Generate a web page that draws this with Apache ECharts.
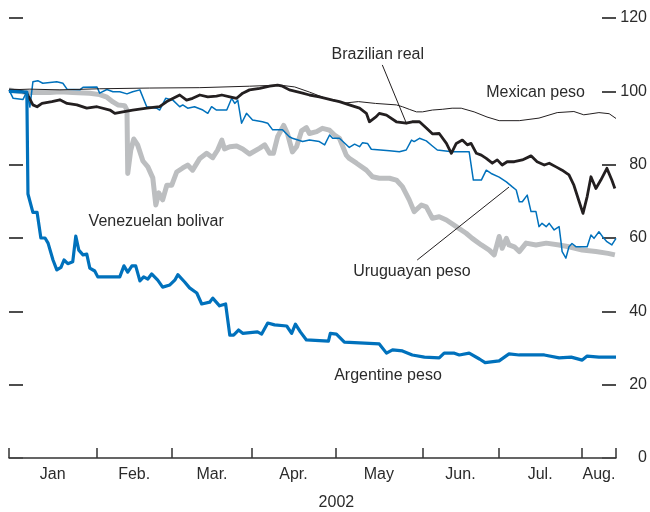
<!DOCTYPE html>
<html>
<head>
<meta charset="utf-8">
<script src="https://cdn.jsdelivr.net/npm/echarts@6/dist/echarts.min.js"></script>
<style>
  html, body { margin: 0; padding: 0; background: #fff; }
  #chart { width: 650px; height: 512px; }
</style>
</head>
<body>
<div id="chart"></div>
<script>
// x = trading day of 2002 (0 = first trading day of January), y = index (start = 100)
const monthStarts = [0, 23, 43, 64, 86, 109, 129, 151, 160]
const monthNames  = ['Jan', 'Feb.', 'Mar.', 'Apr.', 'May', 'Jun.', 'Jul.', 'Aug.']
const yTicks      = [0, 20, 40, 60, 80, 100, 120]

const argentinePeso = [
  [0,100],[4.7,99.8],[5.0,72],[6.3,67],[7.4,67],[8.4,60],[9.5,60],[10.3,58.6],[11.6,54],[12.6,51.3],
  [13.7,52],[14.5,54],[15.5,53],[16.8,53.5],[17.6,60.5],[18.4,56.7],[19.5,55.4],[20.5,55.6],[21.3,51.8],
  [22.6,51],[23.4,49.4],[29.2,49.4],[30.3,52.4],[31.3,50.7],[32.4,52.4],[33.4,52.4],[34.5,48.3],[35.5,49.4],
  [36.6,48.8],[37.6,50.2],[39.2,48.5],[40.5,46.6],[42.4,47.2],[43.7,48.5],[44.5,50],[46.3,48],[47.6,46.4],
  [49.5,45],[50.8,42],[52.9,42.5],[53.7,43.6],[55.5,41.5],[57.1,42],[58.2,33.5],[59.2,33.5],[60.5,34.9],
  [61.6,34],[65.5,34.4],[66.6,33.8],[68.2,36.8],[70,36.3],[73.2,36],[74.5,34],[75.5,36.5],[76.8,34.4],
  [78.4,32.2],[84.2,31.9],[84.7,34],[86.3,33.8],[88.4,31.6],[97.6,31.1],[99.5,28.6],[101.1,29.5],[103.7,29.2],
  [106.3,28.1],[109.5,27.5],[113.4,27.3],[114.7,28.6],[117.4,28.6],[118.7,28.1],[121.3,28.6],[124,27],
  [125.5,26],[129.2,26.5],[131.8,28.4],[134.5,28.1],[141.1,28.1],[145,27.3],[148.2,27.5],[151.1,26.7],
  [152.4,27.8],[155.5,27.5],[160,27.5]
]

const mexicanPeso = [
  [0,100.4],[5.5,100.6],[13.4,100.4],[23.9,100.7],[37.1,100.9],[50.3,101],[63.4,101.4],[71.3,101.7],
  [75.3,101.2],[79.2,99.8],[83.2,98.2],[85.3,97.5],[88.4,96.8],[92.1,97.2],[96.6,96.7],[102.1,96.3],
  [103.7,95.8],[105.5,95.1],[107.4,94.4],[109,94.4],[111.6,94.9],[114.2,95.1],[116.8,95.4],[119.2,95.4],
  [122.6,94.4],[126,93],[129.2,92],[134.5,92],[139.7,92.7],[144.5,94.2],[148.9,94.5],[151.5,93.6],
  [152.9,93.8],[155.5,94.2],[158.2,93.9],[160,92.6]
]

const brazilianReal = [
  [0,100.4],[2.9,100.1],[4.7,99.5],[6.3,96.3],[7.4,95.8],[8.7,96.7],[11.3,97.2],[13.4,97.7],[15.3,96.7],
  [17.9,96.3],[20.5,95.4],[23.2,95.8],[26.6,94.9],[27.9,94],[30,94.4],[32.6,94.9],[36.3,95.4],[39.7,95.8],
  [41.6,97.2],[45,99],[46.8,97.6],[48.4,98.1],[50.3,99],[52.4,98.5],[54.7,98.7],[56.1,99],[58.2,98.5],
  [60,98.1],[61.6,99.5],[63.4,100.4],[66.1,100.8],[68.7,101.4],[70.8,101.7],[72.1,101.4],[73.9,100.4],
  [75.8,99.9],[77.4,99.5],[79.2,99],[81.8,98.5],[85.3,97.6],[87.1,97.2],[89.7,96.3],[92.4,95.4],[94.2,94],
  [95,91.7],[96.8,93.1],[97.6,94],[99.5,93.5],[102.1,91.7],[104.7,91.3],[106.3,91.7],[108.2,91.7],[110,90],
  [111.6,88.4],[113.4,88.5],[115.3,85.8],[116.6,83.1],[117.9,85.8],[119.5,86.7],[120.8,85.4],[121.8,85.8],
  [123.2,83.1],[124.5,82.6],[125.8,81.7],[127.4,80.4],[128.7,81.3],[130,79.9],[131.3,80.8],[133.2,80.8],
  [135.3,81.3],[137.6,82.4],[139.2,80.8],[141.1,79.9],[142.4,80.4],[144.2,79.4],[145.8,78.5],[147.6,77.2],
  [148.9,74.4],[150.3,69.9],[151.3,66.7],[152.4,71.3],[153.4,76.7],[154.7,73.5],[156,75.8],[157.6,79],
  [158.9,75.8],[159.7,73.5]
]

const uruguayanPeso = [
  [0,100.4],[1.1,98.1],[3.7,97.8],[4.7,99.9],[5.5,95.7],[6.3,102.6],[7.6,102.9],[8.9,102.2],[10.8,102.4],
  [12.6,102.6],[14.2,102.2],[15.3,100.6],[18.7,100.4],[19.5,101.1],[23.2,101.2],[23.9,99.5],[25.8,100.5],
  [27.4,99.9],[29.2,99.9],[31.1,99.3],[32.6,99.9],[34.5,100.4],[36.3,95.8],[38.9,95.4],[39.7,94.9],
  [41.3,98.1],[43.2,97.6],[45,95.8],[45.8,96.3],[47.1,95.4],[48.9,95.8],[51.1,94.9],[52.4,94],[53.4,95.8],
  [54.7,94.9],[57.4,94.9],[58.7,98.1],[59.5,96.7],[60.3,97.6],[61.3,91.3],[62.6,94],[64.2,92.2],[66.8,91.7],
  [68.2,91.3],[69.5,89.5],[72.1,89.5],[73.9,87.6],[74.7,87.2],[77.4,86.3],[79.2,86.7],[81.8,86.3],[83.2,85.4],
  [84.5,88.1],[85.3,87.2],[87.1,87.2],[89.7,84.7],[91.1,85.6],[92.4,84.9],[93.2,86],[94.5,85.8],[95.5,84.2],
  [100.3,83.8],[102.9,83.5],[104.7,84],[106.1,86.7],[106.8,86.3],[108.2,87.2],[110,86.5],[111.6,85.1],
  [112.9,84],[116.8,83.5],[121.3,83.5],[122.4,75.8],[124.5,75.8],[125.8,78.5],[127.1,77.6],[129.2,76.6],
  [131.1,75.3],[132.6,74],[133.7,73.1],[134.5,69.9],[135.3,69.9],[136.6,71.7],[137.6,67.2],[138.9,67.2],
  [139.7,63.1],[140.5,64],[141.6,63.1],[142.4,64],[143.7,62.2],[145,63.1],[145.5,59],[145.8,56.3],
  [146.8,54.5],[147.6,57.6],[148.4,58.5],[149.5,57.6],[152.4,57.6],[153.4,60.8],[154.2,59.9],[155.5,61.7],
  [156.8,59.9],[157.6,59],[158.9,58.1],[160,59.9]
]

const venezuelanBolivar = [
  [0,100.4],[4.7,99.7],[10.8,99.7],[13.4,99.9],[16.8,99.7],[21.3,99.5],[23.9,99.1],[25.8,98.4],[27.4,97.1],
  [28.7,96.3],[30.5,96.1],[31.1,94.9],[31.3,77.6],[32.1,84],[32.9,87],[33.9,85.4],[35.3,81],[36.6,79.4],
  [37.9,76.4],[38.7,69],[39.5,72.3],[40.5,70.4],[41.6,74.4],[42.9,74.4],[44.2,78],[45.8,79.1],[47.1,79.9],
  [48.4,78.5],[50.3,81.7],[52.1,83.1],[53.7,81.9],[55,84],[56.1,86.7],[56.8,84.3],[58.2,84.9],[60,85.1],
  [61.6,84.3],[63.4,82.9],[66.1,84.5],[67.4,85.4],[68.7,83.1],[69.7,83.1],[70.8,87.6],[72.4,90.7],[73.4,88.5],
  [74.7,83.5],[75.8,84.9],[77.1,89.2],[78.4,90.1],[79.2,88.5],[81.1,89],[82.6,89.9],[84.5,89.4],[85.8,88.1],
  [87.1,87.2],[88.9,82.6],[89.7,81.7],[91.6,80.4],[94.2,78.5],[95.8,76.7],[97.6,76.3],[100.3,76.3],
  [102.1,75.8],[103.7,74],[105.5,70.4],[106.8,67.2],[108.7,69],[110,68.5],[111.6,65.4],[113.4,65.8],
  [115.3,64.9],[117.9,63.1],[120.5,61.3],[122.1,59.9],[124.5,58.1],[126.6,56.7],[127.9,55.4],[129.2,60.4],
  [130,57.2],[131.1,59.9],[131.8,58.1],[133.2,57.6],[134.5,56.3],[136.3,58.6],[138.9,58.1],[141.6,58.6],
  [145,58.1],[147.6,57.6],[151.1,56.7],[154.7,56.3],[157.9,55.8],[159.7,55.4]
]

// in-plot labels, anchored in data coordinates
const seriesLabels = [
  { text: 'Brazilian real',     at: [97.2, 109.9] },
  { text: 'Mexican peso',       at: [138.8, 99.7] },
  { text: 'Venezuelan bolivar', at: [38.8, 64.5] },
  { text: 'Uruguayan peso',     at: [106.2, 50.9] },
  { text: 'Argentine peso',     at: [99.9, 22.6] },
]
const brazilLeader  = [[98.4, 107.2], [104.7, 91.4]]
const uruguayLeader = [[107.6, 54], [131.8, 73.9]]

const BLUE  = '#0071bc'
const BLACK = '#231f20'
const GREY  = '#bcbec0'
const FONT  = '"Liberation Sans", Arial, sans-serif'

const monthMids = monthNames.map((_, i) => (monthStarts[i] + monthStarts[i + 1]) / 2)

const leader = (pts) => ({
  silent: true,
  symbol: ['none', 'none'],
  label: { show: false },
  lineStyle: { color: BLACK, width: 1, type: 'solid' },
  emphasis: { disabled: true },
  data: [[{ coord: pts[0] }, { coord: pts[1] }]],
})

const line = (name, data, color, width, z, extra) => Object.assign({
  name, type: 'line', data, z,
  showSymbol: false,
  smooth: false,
  lineStyle: { color, width, join: 'round' },
  emphasis: { disabled: true },
}, extra || {})

const yAxisBase = {
  type: 'value',
  min: 0,
  max: 120,
  interval: 20,
  axisLine: { show: false },
  splitLine: { show: false },
  axisTick: { show: true, inside: true, length: 14, lineStyle: { color: '#4d4d4d', width: 2 } },
}

const option = {
  animation: false,
  backgroundColor: '#fff',
  grid: { left: 9, right: 33, top: 18, bottom: 54 },
  xAxis: {
    type: 'value',
    min: 0,
    max: 160,
    splitLine: { show: false },
    axisLine: { lineStyle: { color: '#333', width: 1.5 } },
    axisTick: { inside: true, length: 10, customValues: monthStarts, lineStyle: { color: '#333', width: 1.5 } },
    axisLabel: {
      customValues: monthMids,
      formatter: v => monthNames[monthMids.indexOf(v)] || '',
      margin: 9,
      color: '#2b2b2b',
      fontSize: 16,
      fontFamily: FONT,
    },
  },
  yAxis: [
    Object.assign({}, yAxisBase, { position: 'left', axisLabel: { show: false } }),
    Object.assign({}, yAxisBase, {
      position: 'right',
      axisLabel: { margin: 31, align: 'right', color: '#2b2b2b', fontSize: 16, fontFamily: FONT },
    }),
  ],
  series: [
    line('Venezuelan bolivar', venezuelanBolivar, GREY, 5, 2),
    line('Uruguayan peso', uruguayanPeso, BLUE, 1.5, 3, { markLine: leader(uruguayLeader) }),
    line('Mexican peso', mexicanPeso, BLACK, 1, 4),
    line('Brazilian real', brazilianReal, BLACK, 2.8, 5, { markLine: leader(brazilLeader) }),
    line('Argentine peso', argentinePeso, BLUE, 3.2, 6),
  ],
}

const chart = echarts.init(document.getElementById('chart'), null, { renderer: 'canvas' })
chart.setOption(option)

// place text annotations at their data positions
const toPx = p => chart.convertToPixel({ xAxisIndex: 0, yAxisIndex: 0 }, p)
const textStyle = { font: '16px ' + FONT, fill: '#2b2b2b', align: 'center', verticalAlign: 'middle' }
const graphics = seriesLabels.map(l => {
  const [x, y] = toPx(l.at)
  return { type: 'text', x, y, z: 10, silent: true, style: Object.assign({ text: l.text }, textStyle) }
})
// year under the month labels
const [yearX] = toPx([86.3, 0])
graphics.push({ type: 'text', x: yearX, y: 503, z: 10, silent: true, style: Object.assign({ text: '2002' }, textStyle) })
chart.setOption({ graphic: graphics })
</script>
</body>
</html>
